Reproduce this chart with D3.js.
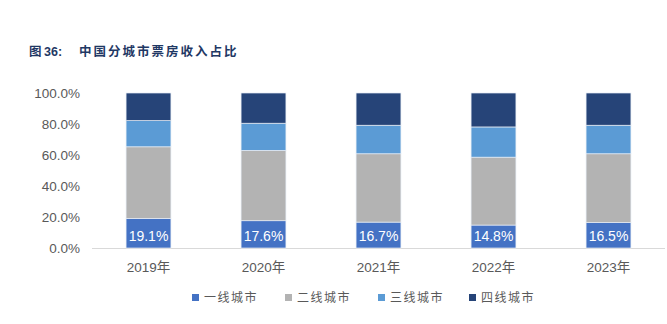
<!DOCTYPE html>
<html><head><meta charset="utf-8">
<script src="https://cdn.jsdelivr.net/npm/d3@7/dist/d3.min.js"></script>
<style>body{margin:0;background:#fff;}svg{display:block;font-family:"Liberation Sans",Arial,sans-serif;}</style>
</head><body><svg id="c" width="667" height="324"></svg>
<script>
const categories = ["2019年","2020年","2021年","2022年","2023年"];
const seriesNames = ["一线城市","二线城市","三线城市","四线城市"];
const tier1 = [19.1,17.6,16.7,14.8,16.5];
const tier2 = [46.2,45.4,44.1,43.8,44.3];
const tier3 = [16.9,17.5,18.4,19.5,18.4];
const tier4 = [17.8,19.5,20.8,21.9,20.8];
const yTicks = [0,20,40,60,80,100];
const colors = ["#4472C4","#B3B3B3","#5B9BD5","#264478"];

const svg = d3.select("#c");
const title = svg.append("text").attr("y",56).attr("fill","#1F3864")
  .attr("font-size",12.5).attr("font-weight","bold")
  .attr("font-family","'Noto Sans CJK SC',sans-serif");
title.append("tspan").attr("x",29).text("图");
title.append("tspan").attr("x",44).attr("font-family","'Liberation Sans',Arial,sans-serif").text("36:");
title.append("tspan").attr("x",79).attr("letter-spacing","2px").text("中国分城市票房收入占比");

const x = d3.scaleBand().domain(categories).range([91,666]).paddingInner(0.61).paddingOuter(0.305);
const y = d3.scaleLinear().domain([0,100]).range([248,93]);

const rows = categories.map((c,i)=>({cat:c, s0:tier1[i], s1:tier2[i], s2:tier3[i], s3:tier4[i]}));
const stack = d3.stack().keys(["s0","s1","s2","s3"])(rows);

svg.append("line").attr("x1",92).attr("x2",665).attr("y1",y(0)+0.5).attr("y2",y(0)+0.5)
  .attr("stroke","#D9D9D9").attr("stroke-width",1);

const yAxis = d3.axisLeft(y).tickValues(yTicks).tickFormat(d=>d.toFixed(1)+"%").tickSize(0).tickPadding(0);
const ga = svg.append("g").attr("transform","translate(80,0)").call(yAxis);
ga.select(".domain").remove();
ga.selectAll("text").attr("font-size",13.5).attr("fill","#595959").attr("font-family","'Liberation Sans',Arial,sans-serif").attr("dy","0.35em");

stack.forEach((layer,k)=>{
  svg.append("g").selectAll("rect").data(layer).join("rect")
    .attr("x",d=>x(d.data.cat)).attr("width",x.bandwidth())
    .attr("y",d=>y(d[1])).attr("height",d=>y(d[0])-y(d[1]))
    .attr("fill",colors[k]).attr("stroke","#E6ECF5").attr("stroke-width",0.7);
});

svg.append("g").selectAll("text").data(rows).join("text")
  .attr("x",d=>x(d.cat)+x.bandwidth()/2).attr("y",241)
  .attr("text-anchor","middle").attr("fill","#fff").attr("font-size",14)
  .text(d=>d.s0.toFixed(1)+"%");

const xAxis = d3.axisBottom(x).tickSize(0).tickPadding(0);
const gx = svg.append("g").call(xAxis);
gx.select(".domain").remove();
gx.selectAll("text").attr("y",272).attr("dy",0).attr("font-size",13.5).attr("fill","#595959")
  .attr("font-family","'Liberation Sans','Noto Sans CJK SC',sans-serif");

const legX = [192,285,378,469];
const lg = svg.append("g");
seriesNames.forEach((n,i)=>{
  lg.append("rect").attr("x",legX[i]).attr("y",294).attr("width",7).attr("height",7).attr("fill",colors[i]);
  lg.append("text").attr("x",legX[i]+12).attr("y",302).attr("font-size",12).attr("fill","#595959")
    .attr("font-family","'Noto Sans CJK SC',sans-serif").attr("letter-spacing","1.5px").text(n);
});
</script></body></html>
